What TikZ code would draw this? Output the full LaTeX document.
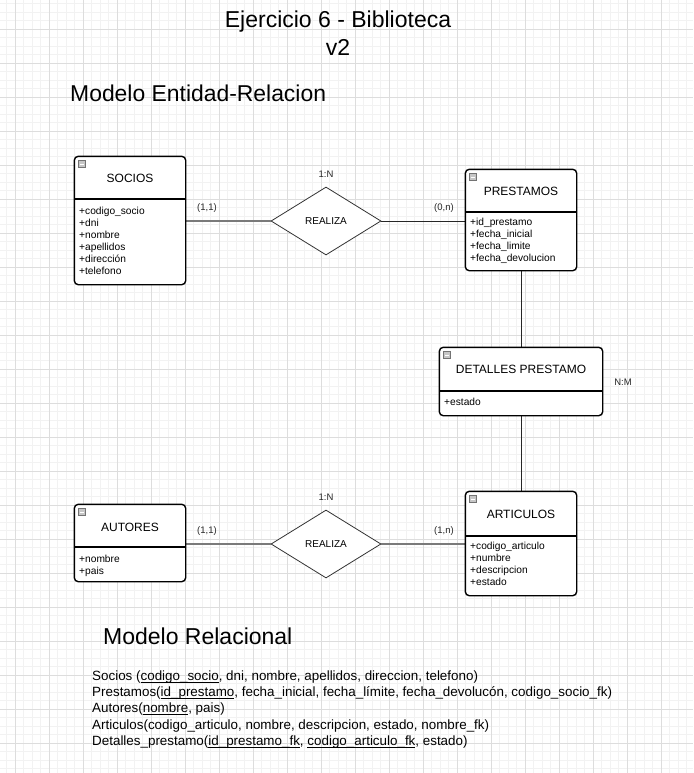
\documentclass[tikz,border=0pt]{standalone}
\usepackage{fontspec}
\setmainfont{Liberation Sans}
\usetikzlibrary{shapes.geometric}
\definecolor{gridminor}{HTML}{F2F2F2}
\definecolor{gridmajor}{HTML}{DDDDDD}
\definecolor{connGray}{HTML}{7A7A7A}
\newcommand{\miconx}[2]{%
  \filldraw[draw=gray!90!black, fill=gray!45, line width=0.6pt] (#1,#2) rectangle ++(7,7);
  \draw[white, line width=1pt] (#1+1.5,#2+3.5) -- ++(4,0);}
\newcommand{\ulx}[1]{\setbox0\hbox{#1}\rlap{\rule[-2.4pt]{\wd0}{0.7pt}}\box0}
\begin{document}
\begin{tikzpicture}[x=1pt,y=-1pt,
  entbox/.style={draw=black, line width=1.4pt, rounded corners=4pt, fill=white, inner sep=0pt},
  entline/.style={draw=black, line width=1.2pt},
  enttitle/.style={font=\fontsize{12}{14}\selectfont, inner sep=0pt},
  attrs/.style={anchor=north west, align=left, inner sep=0pt, font=\fontsize{10.2}{12}\selectfont},
  relbox/.style={diamond, draw=black!80, line width=0.8pt, fill=white, minimum width=110pt, minimum height=68pt, inner sep=0pt, font=\fontsize{10}{11}\selectfont},
  card/.style={font=\fontsize{9.5}{11}\selectfont, inner sep=0pt, text=black!85},
  grayconn/.style={draw=connGray, line width=1.8pt},
  blackconn/.style={draw=black!85, line width=1pt},
  reltext/.style={anchor=west, inner sep=0pt, font=\fontsize{13.4}{15}\selectfont}
]
\useasboundingbox (0,0) rectangle (693,773);
\fill[white] (0,0) rectangle (693,773);
% grid
\foreach \i in {0,...,81} {\pgfmathsetmacro\xx{6.5+8.5*\i}\draw[gridminor, line width=0.6pt] (\xx,0) -- (\xx,773);}
\foreach \i in {0,...,90} {\pgfmathsetmacro\yy{3.5+8.5*\i}\draw[gridminor, line width=0.6pt] (0,\yy) -- (693,\yy);}
\foreach \i in {0,...,20} {\pgfmathsetmacro\xx{15+34*\i}\draw[gridmajor, line width=0.8pt] (\xx,0) -- (\xx,773);}
\foreach \i in {0,...,22} {\pgfmathsetmacro\yy{29+34*\i}\draw[gridmajor, line width=0.8pt] (0,\yy) -- (693,\yy);}

% titles
\node[font=\fontsize{23}{28}\selectfont, align=center, inner sep=0pt] (title) at (338,33) {Ejercicio 6 - Biblioteca\\v2};
\node[font=\fontsize{22.9}{24}\selectfont, anchor=west, inner sep=0pt] (mer) at (70,93) {Modelo Entidad-Relacion};
\node[font=\fontsize{23}{24}\selectfont, anchor=west, inner sep=0pt] (mr) at (103,636) {Modelo Relacional};

% entities
\node[entbox, minimum width=110pt, minimum height=127pt] (socios) at (130,220.5) {};
\node[entbox, minimum width=110pt, minimum height=100pt] (prestamos) at (521,220) {};
\node[entbox, minimum width=162pt, minimum height=67pt] (detalles) at (521,381.5) {};
\node[entbox, minimum width=110pt, minimum height=76pt] (autores) at (130,543) {};
\node[entbox, minimum width=110pt, minimum height=103pt] (articulos) at (521,543.5) {};

% relations
\node[relbox] (r1) at (326,221) {REALIZA};
\node[relbox] (r2) at (326,544) {REALIZA};

% connectors
\draw[grayconn] (r1.west -| socios.east) -- (r1.west);
\draw[blackconn] (r1.east) -- (r1.east -| prestamos.west);
\draw[blackconn] (prestamos.south) -- (detalles.north);
\draw[blackconn] (detalles.south) -- (articulos.north);
\draw[grayconn] (r2.west -| autores.east) -- (r2.west);
\draw[grayconn] (r2.east) -- (r2.east -| articulos.west);

% redraw entity outlines on top of connector ends
\draw[entbox] (socios.north west) rectangle (socios.south east);
\draw[entbox] (prestamos.north west) rectangle (prestamos.south east);
\draw[entbox] (detalles.north west) rectangle (detalles.south east);
\draw[entbox] (autores.north west) rectangle (autores.south east);
\draw[entbox] (articulos.north west) rectangle (articulos.south east);

% dividers
\draw[entline] (socios.west |- 0,199) -- (socios.east |- 0,199);
\draw[entline] (prestamos.west |- 0,212) -- (prestamos.east |- 0,212);
\draw[entline] (detalles.west |- 0,391) -- (detalles.east |- 0,391);
\draw[entline] (autores.west |- 0,547) -- (autores.east |- 0,547);
\draw[entline] (articulos.west |- 0,536) -- (articulos.east |- 0,536);

% icons
\miconx{78.5}{160.5}
\miconx{469.5}{173.5}
\miconx{443.5}{351.5}
\miconx{78.5}{508.5}
\miconx{469.5}{495.5}

% entity titles
\node[enttitle] (sociost) at (130,178) {SOCIOS};
\node[enttitle] (prestamost) at (521,191) {PRESTAMOS};
\node[enttitle] (detallest) at (521,369.5) {DETALLES PRESTAMO};
\node[enttitle] (autorest) at (130,527) {AUTORES};
\node[enttitle] (articulost) at (521,514) {ARTICULOS};

% attributes
\node[attrs] (sociosa) at (79,207) {+codigo\_socio\\+dni\\+nombre\\+apellidos\\+dirección\\+telefono};
\node[attrs] (prestamosa) at (470,218) {+id\_prestamo\\+fecha\_inicial\\+fecha\_limite\\+fecha\_devolucion};
\node[attrs] (detallesa) at (444,398) {+estado};
\node[attrs] (autoresa) at (79,555) {+nombre\\+pais};
\node[attrs] (articulosa) at (470,542) {+codigo\_articulo\\+numbre\\+descripcion\\+estado};

% cardinalities
\node[card] (c1) at (326,174) {1:N};
\node[card] (c2) at (207,208) {(1,1)};
\node[card] (c3) at (444,208) {(0,n)};
\node[card] (c4) at (326,497) {1:N};
\node[card] (c5) at (207,531) {(1,1)};
\node[card] (c6) at (444,531) {(1,n)};
\node[card] (c7) at (623,382) {N:M};

% relational model
\node[reltext] (rel1) at (92,677) {Socios (\ulx{codigo\_socio}, dni, nombre, apellidos, direccion, telefono)};
\node[reltext] (rel2) at (92,693) {Prestamos(\ulx{id\_prestamo}, fecha\_inicial, fecha\_límite, fecha\_devolucón, codigo\_socio\_fk)};
\node[reltext] (rel3) at (92,709) {Autores(\ulx{nombre}, pais)};
\node[reltext] (rel4) at (92,726) {Articulos(codigo\_articulo, nombre, descripcion, estado, nombre\_fk)};
\node[reltext] (rel5) at (92,742) {Detalles\_prestamo(\ulx{id\_prestamo\_fk}, \ulx{codigo\_articulo\_fk}, estado)};
\end{tikzpicture}
\end{document}
